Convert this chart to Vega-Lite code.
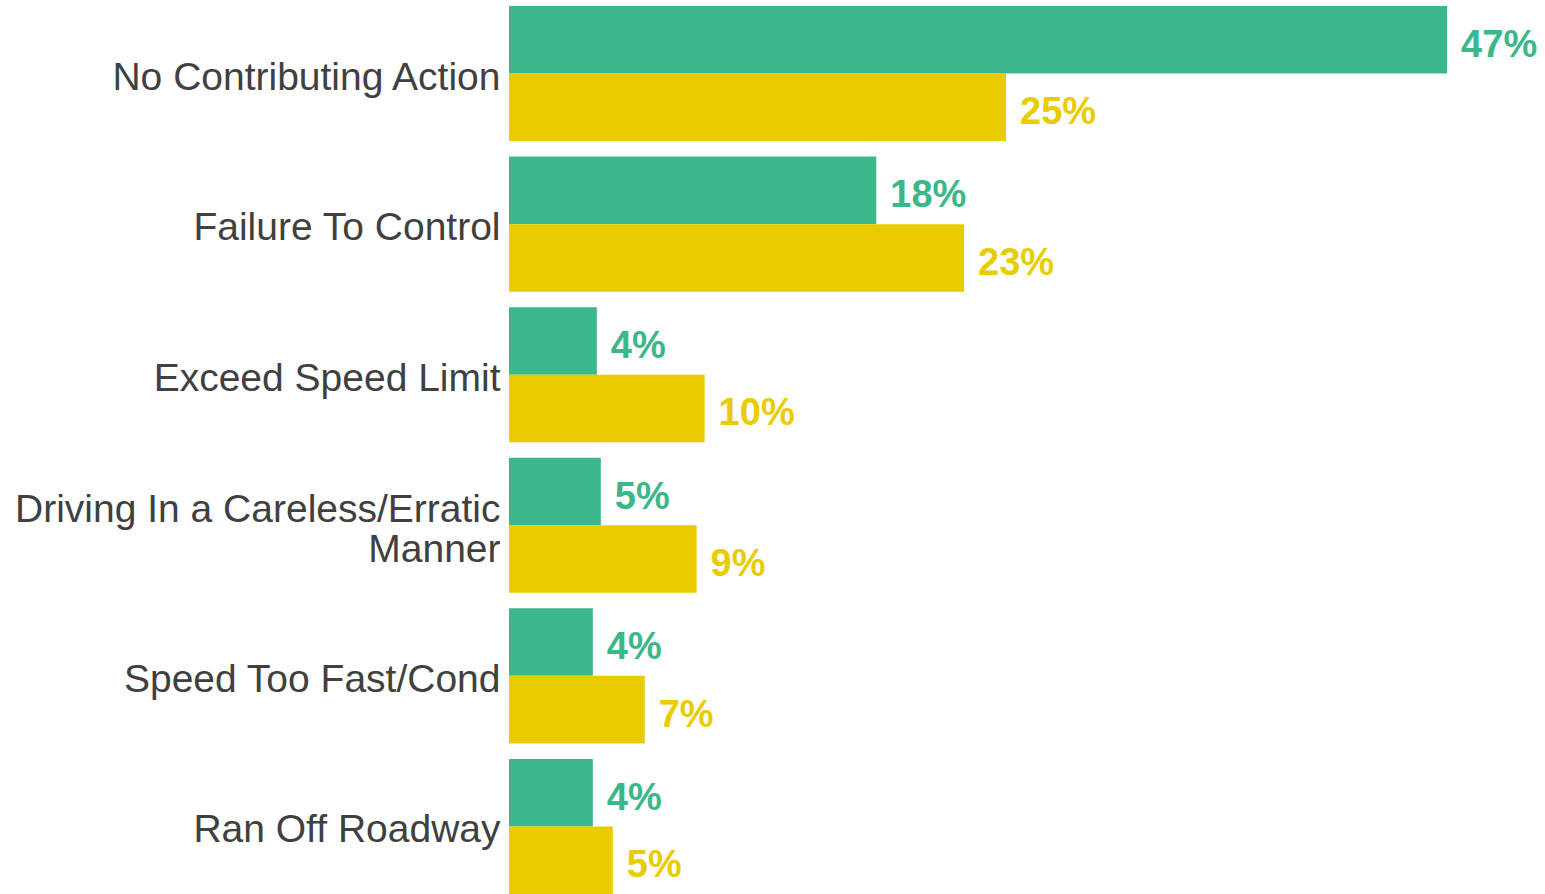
{
  "$schema": "https://vega.github.io/schema/vega-lite/v6.json",
  "width": 998,
  "height": 900,
  "autosize": {"type": "none"},
  "padding": {"left": 509, "top": 0, "right": 38, "bottom": 0},
  "background": "white",
  "config": {"view": {"stroke": null}, "font": "Liberation Sans"},
  "data": {
    "values": [
      {"action": "No Contributing Action", "group": "Group 1", "pct": 0.470},
      {"action": "No Contributing Action", "group": "Group 2", "pct": 0.249},
      {"action": "Failure To Control", "group": "Group 1", "pct": 0.184},
      {"action": "Failure To Control", "group": "Group 2", "pct": 0.228},
      {"action": "Exceed Speed Limit", "group": "Group 1", "pct": 0.044},
      {"action": "Exceed Speed Limit", "group": "Group 2", "pct": 0.098},
      {"action": "Driving In a Careless/Erratic Manner", "group": "Group 1", "pct": 0.046},
      {"action": "Driving In a Careless/Erratic Manner", "group": "Group 2", "pct": 0.094},
      {"action": "Speed Too Fast/Cond", "group": "Group 1", "pct": 0.042},
      {"action": "Speed Too Fast/Cond", "group": "Group 2", "pct": 0.068},
      {"action": "Ran Off Roadway", "group": "Group 1", "pct": 0.042},
      {"action": "Ran Off Roadway", "group": "Group 2", "pct": 0.052}
    ]
  },
  "encoding": {
    "y": {
      "field": "action",
      "type": "nominal",
      "sort": null,
      "scale": {"paddingInner": 0.103, "paddingOuter": 0.04},
      "axis": {
        "title": null,
        "domain": false,
        "ticks": false,
        "labelFontSize": 39,
        "labelColor": "#404040",
        "labelPadding": 9,
        "labelLimit": 600,
        "labelLineHeight": 40,
        "labelExpr": "datum.value == 'Driving In a Careless/Erratic Manner' ? ['Driving In a Careless/Erratic', 'Manner'] : datum.label",
        "labelOffset": {"condition": {"test": "datum.value == 'Driving In a Careless/Erratic Manner'", "value": -15}, "value": 4}
      }
    },
    "yOffset": {"field": "group", "type": "nominal", "sort": null, "scale": {"paddingInner": 0, "paddingOuter": 0}},
    "x": {"field": "pct", "type": "quantitative", "scale": {"domain": [0, 0.5]}, "axis": null},
    "color": {"field": "group", "type": "nominal", "scale": {"range": ["#3CB78A", "#E8CC00"]}, "legend": null}
  },
  "layer": [
    {"mark": {"type": "bar"}},
    {
      "mark": {"type": "text", "align": "left", "baseline": "middle", "dx": 14, "dy": 6, "fontSize": 38, "fontWeight": "bold"},
      "encoding": {"text": {"field": "pct", "type": "quantitative", "format": ".0%"}}
    }
  ]
}
